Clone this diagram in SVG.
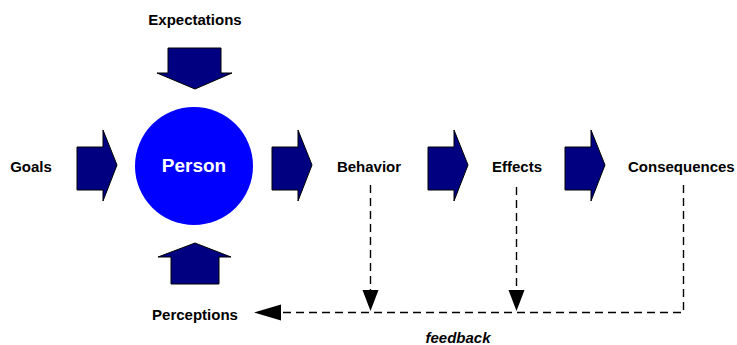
<svg xmlns="http://www.w3.org/2000/svg" width="737" height="345" viewBox="0 0 737 345">
<defs>
<style>
.blk{fill:#000080;stroke:#000000;stroke-width:1}
.lbl{font-family:"Liberation Sans",Arial,sans-serif;font-weight:bold;font-size:15px;fill:#000000}
.dash{fill:none;stroke:#000000;stroke-width:1.4;stroke-dasharray:8,5}
</style>
<path id="rarrow" class="blk" d="M0,17 H26 V0 L40,35 L26,71 V60 H0 Z"/>
</defs>
<rect width="737" height="345" fill="#ffffff"/>
<g id="connectors">
<line class="dash" x1="370.5" y1="185" x2="370.5" y2="290"/>
<polygon points="362.5,290 378.5,290 370.5,311" fill="#000000"/>
<line class="dash" x1="516.5" y1="187" x2="516.5" y2="290"/>
<polygon points="508.5,290 524.5,290 516.5,311" fill="#000000"/>
<polyline class="dash" points="683.5,185 683.5,312.5 280,312.5"/>
<polygon points="281,304.5 281,320.5 254,312.5" fill="#000000"/>
</g>
<g id="arrow-goals"><use href="#rarrow" x="77" y="130"/></g>
<g id="arrow-behavior"><use href="#rarrow" x="272" y="130"/></g>
<g id="arrow-effects"><use href="#rarrow" x="428" y="130"/></g>
<g id="arrow-consequences"><use href="#rarrow" x="565" y="130"/></g>
<g id="arrow-expectations"><path class="blk" d="M168,48 H221 V73 H232 L195,89 L157,73 H168 Z"/></g>
<g id="arrow-perceptions"><path class="blk" d="M171,284 V257 H158 L195,243 L231,257 H219 V284 Z"/></g>
<g id="person">
<circle cx="194" cy="166" r="59" fill="#0000ff"/>
<text x="194" y="172" text-anchor="middle" font-family="Liberation Sans, Arial, sans-serif" font-weight="bold" font-size="19" fill="#ffffff">Person</text>
</g>
<g id="goals"><text class="lbl" x="31" y="172" text-anchor="middle">Goals</text></g>
<g id="expectations"><text class="lbl" x="195" y="25" text-anchor="middle">Expectations</text></g>
<g id="perceptions"><text class="lbl" x="195" y="320" text-anchor="middle">Perceptions</text></g>
<g id="behavior"><text class="lbl" x="369" y="172" text-anchor="middle">Behavior</text></g>
<g id="effects"><text class="lbl" x="517" y="172" text-anchor="middle">Effects</text></g>
<g id="consequences"><text class="lbl" x="628" y="172">Consequences</text></g>
<g id="feedback"><text class="lbl" x="458" y="343" text-anchor="middle" font-style="italic">feedback</text></g>
</svg>
